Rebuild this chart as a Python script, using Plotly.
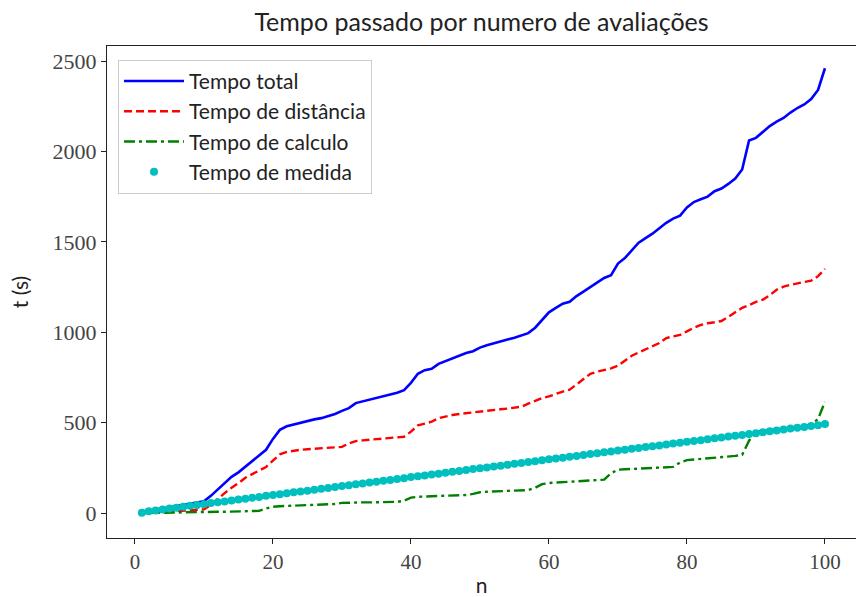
import plotly.graph_objects as go

# Number of evaluations
n = list(range(1, 101))

# Accumulated times (s)
tempo_total = [
    0, 12, 20, 25, 32, 38, 44, 50, 56, 65,
    95, 130, 165, 200, 225, 255, 290, 320, 350, 410,
    460, 480, 490, 500, 510, 518, 525, 535, 548, 565,
    580, 608, 618, 630, 640, 648, 656, 665, 680, 720,
    770, 790, 798, 825, 840, 855, 870, 885, 895, 915,
    928, 940, 950, 960, 970, 982, 995, 1025, 1070, 1110,
    1135, 1158, 1168, 1200, 1225, 1250, 1275, 1300, 1315, 1380,
    1410, 1455, 1495, 1520, 1545, 1575, 1605, 1628, 1645, 1690,
    1720, 1735, 1750, 1780, 1795, 1820, 1850, 1900, 2060, 2075,
    2110, 2140, 2165, 2185, 2215, 2240, 2260, 2290, 2340, 2460,
]

tempo_distancia = [
    0, 2, 4, 5, 6, 8, 10, 12, 15, 20,
    45, 80, 110, 140, 165, 195, 215, 235, 255, 290,
    325, 338, 345, 350, 353, 356, 358, 360, 362, 366,
    385, 398, 402, 405, 408, 411, 414, 417, 422, 450,
    485, 495, 505, 525, 535, 542, 548, 553, 558, 562,
    566, 570, 574, 578, 582, 588, 605, 622, 636, 645,
    660, 672, 682, 710, 740, 770, 782, 790, 800, 815,
    845, 870, 888, 905, 922, 940, 968, 978, 985, 1005,
    1025, 1040, 1050, 1055, 1062, 1085, 1110, 1135, 1150, 1168,
    1180, 1205, 1235, 1252, 1262, 1272, 1278, 1285, 1310, 1350,
]

tempo_calculo = [
    0, 1, 2, 3, 3, 4, 4, 5, 5, 6,
    6, 7, 7, 8, 8, 9, 10, 12, 25, 35,
    38, 39, 40, 41, 42, 43, 44, 45, 50, 56,
    58, 58, 59, 59, 60, 60, 61, 62, 68, 85,
    90, 91, 92, 94, 95, 96, 98, 100, 106, 115,
    118, 119, 120, 122, 123, 125, 127, 140, 160, 166,
    168, 170, 172, 175, 177, 179, 182, 185, 220, 240,
    242, 244, 246, 247, 249, 250, 252, 255, 280, 293,
    296, 299, 302, 305, 308, 312, 316, 322, 400, 450,
    455, 460, 464, 468, 472, 476, 480, 490, 520, 615,
]

tempo_medida = [
    2, 10, 14, 19, 25, 29, 35, 40, 45, 49,
    55, 60, 64, 69, 75, 79, 85, 89, 95, 100,
    104, 109, 115, 119, 124, 129, 134, 139, 144, 149,
    154, 159, 164, 169, 173, 178, 183, 188, 193, 199,
    203, 208, 213, 218, 223, 228, 233, 238, 243, 248,
    252, 257, 262, 267, 272, 277, 282, 287, 292, 298,
    302, 306, 311, 316, 321, 326, 331, 336, 341, 346,
    350, 355, 360, 365, 370, 374, 379, 384, 389, 394,
    398, 403, 408, 413, 418, 423, 428, 432, 437, 442,
    447, 452, 457, 462, 467, 472, 476, 481, 486, 492,
]

sans = "Lato, 'DejaVu Sans', sans-serif"
serif = "'Liberation Serif', 'DejaVu Serif', serif"

fig = go.Figure()

fig.add_trace(go.Scatter(
    x=n, y=tempo_total, mode="lines", name="Tempo total", legendgroup="a",
    line=dict(color="#0000ff", width=2.6),
))
fig.add_trace(go.Scatter(
    x=n, y=tempo_distancia, mode="lines", name="Tempo de distância", legendgroup="b",
    line=dict(color="#ff0000", width=2.4, dash="8px,4px"),
))
fig.add_trace(go.Scatter(
    x=n, y=tempo_calculo, mode="lines", name="Tempo de calculo", legendgroup="c",
    line=dict(color="#008000", width=2.4, dash="11px,4px,3px,4px"),
))
fig.add_trace(go.Scatter(
    x=n, y=tempo_medida, mode="markers", name="Tempo de medida", legendgroup="d",
    marker=dict(color="#00bfbf", size=8, line=dict(width=0)),
))

fig.update_layout(
    width=856, height=597,
    paper_bgcolor="white", plot_bgcolor="white",
    margin=dict(l=107, r=0, t=46, b=59),
    title=dict(
        text="Tempo passado por numero de avaliações",
        x=0.5, xanchor="center", xref="paper",
        y=0.963, yanchor="middle",
        font=dict(family=sans, size=25, color="#222222"),
    ),
    showlegend=True,
    legend=dict(
        x=0.0147, y=0.972, xanchor="left", yanchor="top",
        bgcolor="rgba(255,255,255,0.85)",
        bordercolor="#cccccc", borderwidth=1,
        font=dict(family=sans, size=21, color="#222222"),
        itemwidth=60, tracegroupgap=0,
    ),
    xaxis=dict(
        range=[-4.05, 104.5],
        tickvals=[0, 20, 40, 60, 80, 100],
        ticks="outside", ticklen=5, tickwidth=1, tickcolor="#222222",
        showline=True, linecolor="#222222", linewidth=1.3, mirror=True,
        showgrid=False, zeroline=False, automargin=False,
        tickfont=dict(family=serif, size=21, color="#444444"),
        title=dict(text="n", font=dict(family=sans, size=21, color="#222222"),
                   standoff=10),
    ),
    yaxis=dict(
        range=[-138, 2583],
        tickvals=[0, 500, 1000, 1500, 2000, 2500],
        ticks="outside", ticklen=5, tickwidth=1, tickcolor="#222222",
        showline=True, linecolor="#222222", linewidth=1.3, mirror=False,
        showgrid=False, zeroline=False, automargin=False,
        tickfont=dict(family=serif, size=22, color="#444444"),
        title=dict(text="t (s)", font=dict(family=sans, size=21, color="#222222"),
                   standoff=18),
    ),
)

fig.write_html("out.html")
